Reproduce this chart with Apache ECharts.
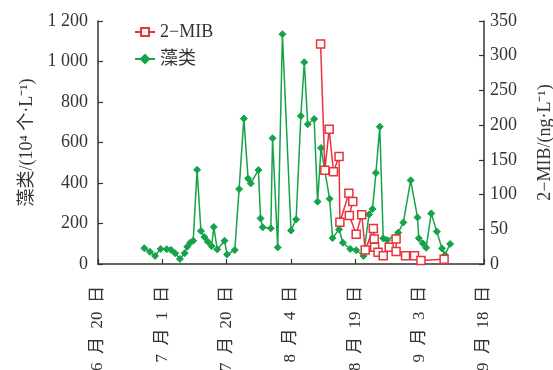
<!DOCTYPE html>
<html>
<head>
<meta charset="utf-8">
<script src="https://cdn.jsdelivr.net/npm/echarts@6/dist/echarts.min.js"></script>
<style>html,body{margin:0;padding:0;background:#fff}#c{width:553px;height:370px}</style>
</head>
<body>
<div id="c"></div>
<script>
// x values are days since 6月20日
var xTickLabels = ['6\u2002月\u200220\u2002日','7\u2002月\u20021\u2002日','7\u2002月\u200220\u2002日','8\u2002月\u20024\u2002日','8\u2002月\u200219\u2002日','9\u2002月\u20023\u2002日','9\u2002月\u200218\u2002日'];
var algaeDays = [10.8,12.1,13.3,14.6,16.0,17.0,18.0,19.1,20.2,20.8,21.5,22.2,23.1,24.0,24.8,25.6,26.5,27.0,27.8,29.5,30.1,31.9,32.9,34.0,35.0,35.6,37.4,37.9,38.4,40.3,40.7,41.9,43.0,45.0,46.2,47.3,48.1,48.9,50.4,51.2,52.0,54.0,54.7,56.2,57.1,58.8,60.2,61.9,63.2,64.0,64.8,65.7,66.5,67.4,70.0,71.2,72.9,74.5,74.8,75.7,76.5,77.7,79.0,80.2,80.9,82.1];
var algaeValues = [78,60,40,74,73,70,53,25,53,85,105,115,465,163,133,110,88,183,72,115,47,69,370,718,422,398,464,225,181,176,621,82,1135,165,220,731,996,690,716,308,573,322,128,171,105,74,68,40,245,272,450,678,127,118,155,205,413,230,127,102,80,250,160,77,45,99];
var mibDays = [51.9,52.9,53.9,54.9,56.2,56.4,58.5,59.4,58.6,60.2,61.5,62.3,64.2,64.4,64.5,65.3,66.5,67.9,69.5,69.5,71.7,73.8,75.3,80.7];
var mibValues = [317,135,194,133,155,60,102,90,70,43,71,20,51,36,24,17,12,24,36,18,12,12,5,7];

function pairs(xs, ys){ var r=[]; for(var i=0;i<xs.length;i++) r.push([xs[i], ys[i]]); return r; }

var chart = echarts.init(document.getElementById('c'), null, {renderer:'canvas'});
var font = '"Liberation Serif","Times New Roman","Noto Sans CJK SC",serif';
var axisColor = '#333';
chart.setOption({
  animation:false,
  grid:{left:98, right:69, top:21, bottom:106, outerBoundsMode:'none', containLabel:false},
  legend:{
    orient:'vertical', left:129, top:18, itemWidth:20, itemHeight:10, itemGap:9,
    textStyle:{fontFamily:font, fontSize:18, color:'#333'},
    data:['2\u2212MIB','藻类']
  },
  xAxis:{
    type:'value', min:0, max:90, interval:15,
    axisLine:{lineStyle:{color:axisColor, width:1.5}},
    axisTick:{inside:true, length:5, lineStyle:{color:axisColor, width:1.2}},
    splitLine:{show:false},
    axisLabel:{rotate:90, margin:22, fontFamily:font, fontSize:17, color:'#333',
      formatter:function(v){ return xTickLabels[Math.round(v/15)]; }}
  },
  yAxis:[{
    type:'value', min:0, max:1200, interval:200, position:'left',
    name:'藻类/(10\u2074 个·L\u207B\u00B9)', nameLocation:'middle', nameGap:62, nameRotate:90,
    nameTextStyle:{fontFamily:font, fontSize:18, color:'#333'},
    axisLine:{show:true, lineStyle:{color:axisColor, width:1.5}},
    axisTick:{show:true, inside:true, length:5, lineStyle:{color:axisColor, width:1.2}},
    splitLine:{show:false},
    axisLabel:{margin:10, fontFamily:font, fontSize:18, color:'#333',
      formatter:function(v){ return v>=1000 ? (Math.floor(v/1000)+' '+String(v%1000).padStart(3,'0')) : String(v); }}
  },{
    type:'value', min:0, max:350, interval:50, position:'right',
    name:'2\u2212MIB/(ng·L\u207B\u00B9)', nameLocation:'middle', nameGap:52, nameRotate:90,
    nameTextStyle:{fontFamily:font, fontSize:18, color:'#333'},
    axisLine:{show:true, lineStyle:{color:axisColor, width:1.5}},
    axisTick:{show:true, inside:true, length:5, lineStyle:{color:axisColor, width:1.2}},
    splitLine:{show:false},
    axisLabel:{margin:6, fontFamily:font, fontSize:18, color:'#333'}
  }],
  series:[{
    name:'2\u2212MIB', type:'line', yAxisIndex:1, z:3,
    data:pairs(mibDays, mibValues),
    symbol:'rect', symbolSize:8,
    itemStyle:{color:'#fff', borderColor:'#e8323c', borderWidth:1.5},
    lineStyle:{color:'#e8323c', width:1.5}
  },{
    name:'藻类', type:'line', yAxisIndex:0, z:2,
    data:pairs(algaeDays, algaeValues),
    symbol:'diamond', symbolSize:7,
    itemStyle:{color:'#15a34a', borderColor:'#15a34a', borderWidth:1},
    lineStyle:{color:'#15a34a', width:1.5}
  }]
});
</script>
</body>
</html>
